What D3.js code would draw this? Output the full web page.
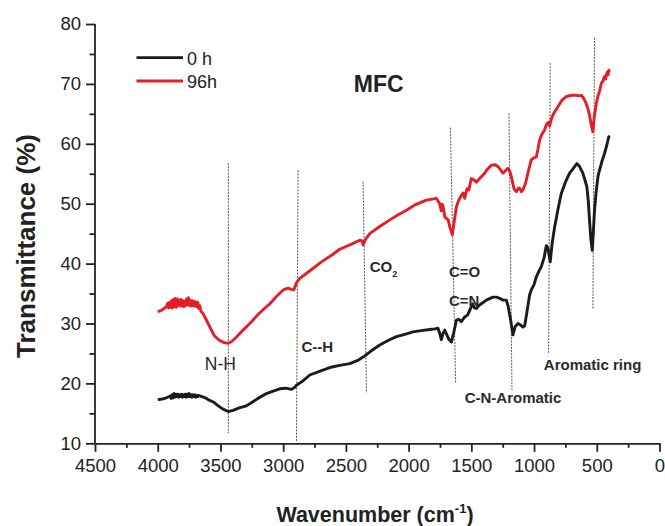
<!DOCTYPE html>
<html>
<head>
<meta charset="utf-8">
<script src="https://cdn.jsdelivr.net/npm/d3@7"></script>
<style>
  html, body { margin: 0; padding: 0; background: #fff; }
  svg { display: block; font-family: "Liberation Sans", Arial, sans-serif; }
</style>
</head>
<body>
<svg id="chart" width="665" height="526"></svg>
<script>
// ---- Data (wavenumber cm^-1, transmittance %) ----
const seriesNames = ["0 h", "96h"];

const wn96 = [4000,3970,3950,3930,3920,3912,3905,3897,3890,3882,3875,3868,3860,3852,3845,3838,3830,3822,3815,3807,3800,3792,3785,3777,3770,3762,3755,3747,3740,3732,3725,3717,3710,3702,3695,3687,3680,3672,3665,3655,3640,3610,3584,3550,3510,3470,3438,3410,3370,3320,3266,3200,3150,3106,3050,3000,2960,2935,2915,2894,2870,2800,2700,2600,2549,2450,2390,2370,2363,2345,2310,2230,2150,2080,2017,1950,1858,1800,1779,1752,1740,1731,1720,1712,1685,1670,1651,1640,1619,1600,1580,1565,1553,1535,1520,1500,1480,1460,1430,1394,1370,1341,1310,1288,1265,1248,1225,1208,1195,1181,1160,1141,1125,1115,1100,1089,1075,1062,1045,1022,1005,982,970,956,940,916,900,885,876,860,840,810,780,743,700,664,640,624,604,584,570,558,545,531,520,504,490,475,464,450,440,430,425,415,410,404,400];
const t96 = [32.0,32.2,32.5,32.8,33.4,32.6,33.5,32.7,33.8,32.6,34.0,32.8,34.2,32.7,34.1,33.0,33.9,32.9,34.0,33.0,33.8,32.8,33.7,33.0,34.1,33.1,34.3,33.0,33.9,32.9,33.8,33.0,33.7,32.9,33.6,32.8,33.5,32.5,33.0,32.0,31.7,30.5,29.4,28.0,27.2,26.8,26.7,27.0,27.8,28.9,30.0,31.5,32.5,33.3,34.6,35.6,35.9,35.7,35.6,36.8,37.5,38.6,40.2,41.6,42.4,43.3,43.9,43.8,43.1,44.0,45.0,46.2,47.3,48.2,48.9,49.8,50.6,50.8,50.9,50.0,48.8,49.9,49.0,47.8,47.3,46.0,44.8,46.5,49.5,50.6,51.4,51.8,50.9,52.5,52.3,54.2,54.0,53.6,54.3,55.1,55.8,56.4,56.5,56.2,55.6,55.1,55.6,55.9,55.5,54.5,52.5,52.0,52.6,52.6,52.0,52.3,53.0,53.9,55.5,57.3,57.6,57.8,59.0,60.6,61.5,62.3,63.3,63.6,63.0,64.3,65.2,66.2,67.2,67.9,68.1,68.1,68.0,68.1,67.6,66.7,65.8,64.8,63.3,62.0,64.5,66.7,68.0,69.0,70.1,70.5,71.2,70.8,71.5,72.0,71.5,72.3,72.0];

const wn0 = [4000,3960,3930,3900,3892,3885,3877,3870,3862,3855,3847,3840,3832,3825,3817,3810,3802,3795,3787,3780,3772,3765,3757,3750,3742,3735,3727,3720,3712,3705,3697,3690,3682,3675,3663,3620,3590,3557,3520,3480,3438,3400,3350,3300,3266,3200,3133,3080,3027,2980,2933,2910,2894,2850,2788,2700,2628,2550,2469,2400,2363,2300,2230,2160,2097,2030,1965,1900,1832,1790,1766,1750,1739,1725,1712,1695,1680,1659,1640,1619,1600,1580,1553,1530,1513,1490,1475,1460,1440,1420,1380,1328,1300,1274,1248,1221,1208,1190,1168,1150,1128,1110,1089,1075,1060,1035,1022,1000,982,960,942,920,902,890,871,855,836,810,783,750,717,690,659,640,611,595,579,568,558,547,536,528,518,505,490,478,460,438,420,404,400];
const t0 = [17.3,17.4,17.6,17.9,17.5,18.1,17.6,18.3,17.7,18.2,17.8,18.2,17.7,18.1,17.8,18.2,17.7,18.1,17.8,18.2,17.7,18.2,17.8,18.3,17.8,18.1,17.7,18.1,17.8,18.1,17.7,18.0,17.8,18.0,17.9,17.6,17.2,16.9,16.3,15.7,15.3,15.5,15.9,16.2,16.6,17.5,18.3,18.7,19.1,19.2,19.0,19.3,19.7,20.3,21.4,22.1,22.65,23.0,23.3,23.9,24.4,25.4,26.4,27.2,27.8,28.2,28.6,28.8,29.0,29.1,29.2,28.2,27.3,28.4,28.9,28.1,27.4,26.9,28.5,30.55,30.7,30.3,31.1,31.4,32.2,33.3,32.6,32.5,33.0,33.3,33.9,34.4,34.4,34.2,33.9,33.9,33.0,31.0,28.1,29.5,30.0,29.8,29.4,29.6,31.5,34.8,35.6,36.5,37.8,38.8,39.5,41.0,43.0,42.6,40.3,43.5,46.1,49.0,51.7,53.6,55.1,55.8,56.7,56.3,55.1,54.0,52.8,50.5,47.3,44.0,42.2,45.0,48.9,52.0,54.6,55.6,57.0,58.4,59.8,61.2,61.0];

// Marker (dashed) lines: [wn top, T top, wn bottom, T bottom]
const markerWnTop = [3437, 2881, 2363, 1667, 1200, 871, 518];
const markerTTop  = [56.8, 55.6, 53.7, 62.7, 65.1, 73.5, 77.7];
const markerWnBot = [3437, 2894, 2336, 1625, 1176, 884, 531];
const markerTBot  = [11.7, 10.2, 18.4, 20.0, 18.9, 25.0, 32.3];

// Annotation labels
const annoText = ["N-H", "C--H", "CO", "C=O", "C=N", "C-N-Aromatic", "Aromatic ring"];
const annoWn   = [3501, 2854, 2310, 1678, 1678, 1553, 922];
const annoT    = [22.2, 25.3, 38.65, 37.7, 32.9, 16.8, 22.3];

const xMajor = [4500,4000,3500,3000,2500,2000,1500,1000,500,0];
const xMinor = [4250,3750,3250,2750,2250,1750,1250,750,250];
const yMajor = [10,20,30,40,50,60,70,80];
const yMinor = [15,25,35,45,55,65,75];

// ---- Drawing ----
const svg = d3.select("#chart");
const x = d3.scaleLinear().domain([4500, 0]).range([95, 659.5]);
const y = d3.scaleLinear().domain([10, 80]).range([443.3, 24]);

const axisColor = "#222";
const red = "#e41e26";
const black = "#1b1b1b";

// dashed marker lines (under curves)
const mk = markerWnTop.map((d, i) => ({x1: d, y1: markerTTop[i], x2: markerWnBot[i], y2: markerTBot[i]}));
svg.append("g").selectAll("line").data(mk).join("line")
  .attr("x1", d => x(d.x1)).attr("y1", d => y(d.y1))
  .attr("x2", d => x(d.x2)).attr("y2", d => y(d.y2))
  .attr("stroke", "#444").attr("stroke-width", 0.9)
  .attr("stroke-dasharray", "2,1.2");

// curves
const line = d3.line().x(d => x(d[0])).y(d => y(d[1]));
const d96 = wn96.map((w, i) => [w, t96[i]]);
const d0 = wn0.map((w, i) => [w, t0[i]]);
svg.append("path").datum(d0).attr("d", line).attr("fill", "none")
  .attr("stroke", black).attr("stroke-width", 2.9).attr("stroke-linejoin", "round");
svg.append("path").datum(d96).attr("d", line).attr("fill", "none")
  .attr("stroke", red).attr("stroke-width", 2.9).attr("stroke-linejoin", "round");

// axes
const gx = svg.append("g").attr("transform", `translate(0,${y(10)})`)
  .call(d3.axisBottom(x).tickValues(xMajor).tickFormat(d3.format("d")).tickSize(8.5).tickSizeOuter(0).tickPadding(7.5));
const gxm = svg.append("g").attr("transform", `translate(0,${y(10)})`)
  .call(d3.axisBottom(x).tickValues(xMinor).tickFormat("").tickSize(4.5).tickSizeOuter(0));
const gy = svg.append("g").attr("transform", `translate(${x(4500)},0)`)
  .call(d3.axisLeft(y).tickValues(yMajor).tickSize(9).tickSizeOuter(0).tickPadding(5));
const gym = svg.append("g").attr("transform", `translate(${x(4500)},0)`)
  .call(d3.axisLeft(y).tickValues(yMinor).tickFormat("").tickSize(5.5).tickSizeOuter(0));
gxm.select(".domain").remove();
gym.select(".domain").remove();
[gx, gy, gxm, gym].forEach(g => {
  g.selectAll("path, line").attr("stroke", axisColor).attr("stroke-width", 1.8);
  g.selectAll("text").attr("fill", "#222").style("font-size", "18.5px")
    .style("font-family", "'Liberation Sans', Arial, sans-serif");
});
gy.select(".domain").attr("d", `M0,${y(80)}V${y(10)}`);

// axis titles
svg.append("text")
  .attr("transform", `translate(35,246) rotate(-90)`)
  .attr("text-anchor", "middle")
  .style("font-size", "26px").style("font-weight", "bold").attr("fill", "#222")
  .text("Transmittance (%)");

const xt = svg.append("text").attr("x", 375).attr("y", 522)
  .attr("text-anchor", "middle")
  .style("font-size", "21.5px").style("font-weight", "bold").attr("fill", "#222");
xt.append("tspan").text("Wavenumber (cm");
xt.append("tspan").attr("dy", -9).style("font-size", "13px").text("-1");
xt.append("tspan").attr("dy", 9).text(")");

// MFC title
svg.append("text").attr("x", x(2437)).attr("y", y(68.6))
  .style("font-size", "23px").style("font-weight", "bold").attr("fill", "#222")
  .text("MFC");

// annotations
annoText.forEach((t, i) => {
  const isNH = i === 0;
  const el = svg.append("text")
    .attr("x", x(annoWn[i])).attr("y", y(annoT[i]))
    .attr("text-anchor", isNH ? "middle" : "start")
    .style("font-size", isNH ? "17.5px" : "15px")
    .style("font-weight", isNH ? "normal" : "bold")
    .attr("fill", "#2a2a2a")
    .text(t);
  if (t === "CO") {
    el.append("tspan").attr("dy", 5).style("font-size", "9px").text("2");
  }
});

// legend
const legend = svg.append("g");
const legColors = [black, red];
seriesNames.forEach((n, i) => {
  const ly = 57.7 + i * 23.3;
  legend.append("line").attr("x1", 136.5).attr("x2", 183).attr("y1", ly).attr("y2", ly)
    .attr("stroke", legColors[i]).attr("stroke-width", 2.8);
  legend.append("text").attr("x", 187).attr("y", ly + 7)
    .style("font-size", "18px").attr("fill", "#222").text(n);
});
</script>
</body>
</html>
